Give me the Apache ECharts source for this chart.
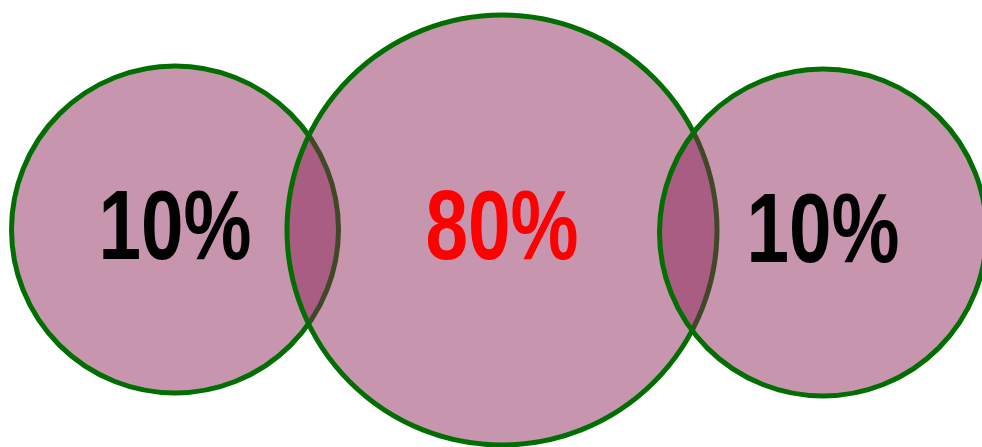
<!DOCTYPE html>
<html>
<head>
<meta charset="utf-8">
<script src="https://cdn.jsdelivr.net/npm/echarts@6/dist/echarts.min.js"></script>
<style>
  html, body { margin: 0; padding: 0; background: #fff; }
  #venn { width: 982px; height: 447px; }
</style>
</head>
<body>
<div id="venn"></div>
<script>
// circle data, in chart units (1 unit = 1px on this canvas)
const shares = ["10%", "80%", "10%"];
const centerX = [175, 502, 823];
const centerY = [229.5, 230, 232.5];
const radius = [163.5, 215, 163.5];

const labelColors = ["#000000", "#ff0000", "#000000"];

const chart = echarts.init(document.getElementById("venn"));

const renderCircle = (params, api) => {
  const c = api.coord([api.value(0), api.value(1)]);
  const r = api.size([api.value(2), 0])[0];
  const i = params.dataIndex;
  return {
    type: "group",
    children: [
      {
        type: "circle",
        shape: { cx: c[0], cy: c[1], r: r },
        style: {
          fill: "rgba(135, 29, 82, 0.47)",
          stroke: "#006e00",
          lineWidth: 5,
        },
      },
      {
        type: "text",
        x: c[0],
        y: c[1] + 2,
        scaleX: 0.78,
        style: {
          text: shares[i],
          fill: labelColors[i],
          font: 'bold 98px "Liberation Sans", Arial, sans-serif',
          align: "center",
          verticalAlign: "middle",
        },
      },
    ],
  };
};

const option = {
  animation: false,
  grid: { left: 0, right: 0, top: 0, bottom: 0, containLabel: false },
  xAxis: { type: "value", min: 0, max: 982, show: false },
  yAxis: { type: "value", min: 0, max: 447, inverse: true, show: false },
  series: [
    {
      type: "custom",
      renderItem: renderCircle,
      data: shares.map((s, i) => [centerX[i], centerY[i], radius[i]]),
      emphasis: { disabled: true },
    },
  ],
};

chart.setOption(option);
</script>
</body>
</html>
